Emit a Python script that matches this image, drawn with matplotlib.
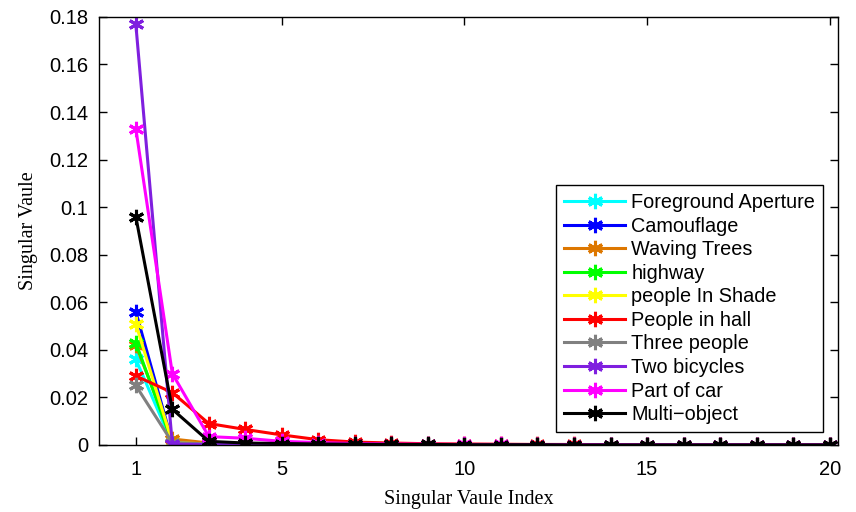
import matplotlib.pyplot as plt

idx = list(range(1, 21))

fg_aperture = [0.036, 0.0006, 0.0003, 0.0002, 0.0001, 0.0001] + [0.0] * 14
camouflage = [0.056, 0.0010, 0.0004, 0.0002, 0.0001, 0.0001] + [0.0] * 14
waving_trees = [0.042, 0.0025, 0.0008, 0.0003, 0.0002, 0.0001] + [0.0] * 14
highway = [0.043, 0.0008, 0.0003, 0.0002, 0.0001, 0.0001] + [0.0] * 14
people_shade = [0.051, 0.0010, 0.0004, 0.0002, 0.0001, 0.0001] + [0.0] * 14
people_hall = [0.029, 0.022, 0.009, 0.0065, 0.0042, 0.0022, 0.0012, 0.0008,
               0.0005, 0.0004, 0.0003, 0.0002, 0.0002, 0.0001, 0.0001, 0.0001,
               0.0001, 0.0001, 0.0, 0.0]
three_people = [0.025, 0.0010, 0.0004, 0.0002, 0.0001, 0.0001] + [0.0] * 14
two_bicycles = [0.177, 0.0003, 0.0002, 0.0001, 0.0001, 0.0001] + [0.0] * 14
part_of_car = [0.133, 0.030, 0.0035, 0.0028, 0.0015, 0.0010, 0.0006, 0.0004,
               0.0003, 0.0002, 0.0002, 0.0001, 0.0001, 0.0001] + [0.0] * 6
multi_object = [0.096, 0.015, 0.0015, 0.0008, 0.0006, 0.0004, 0.0003, 0.0002,
                0.0002, 0.0001, 0.0001, 0.0001] + [0.0] * 8

series = [
    ("Foreground Aperture", fg_aperture, "#00ffff"),
    ("Camouflage", camouflage, "#0000ff"),
    ("Waving Trees", waving_trees, "#dd7700"),
    ("highway", highway, "#00ff00"),
    ("people In Shade", people_shade, "#ffff00"),
    ("People in hall", people_hall, "#ff0000"),
    ("Three people", three_people, "#808080"),
    ("Two bicycles", two_bicycles, "#7f1fdf"),
    ("Part of car", part_of_car, "#ff00ff"),
    ("Multi\u2212object", multi_object, "#000000"),
]

plt.rcParams['font.family'] = ['Liberation Sans', 'DejaVu Sans']

fig = plt.figure(figsize=(8.56, 5.12), dpi=100)
ax = fig.add_axes([0.116, 0.131, 0.863, 0.836])

for name, vals, col in series:
    ax.plot(idx, vals, color=col, linewidth=2.2, marker=(6, 2, 0),
            markersize=11, markeredgewidth=2.2, label=name)

ax.set_xlim(0, 20.23)
ax.set_ylim(0, 0.18)
ax.set_xticks([1, 5, 10, 15, 20])
ax.set_yticks([0, 0.02, 0.04, 0.06, 0.08, 0.1, 0.12, 0.14, 0.16, 0.18])
ax.set_yticklabels(["0", "0.02", "0.04", "0.06", "0.08", "0.1", "0.12",
                    "0.14", "0.16", "0.18"])
ax.tick_params(direction='in', top=True, right=True, labelsize=14.5,
               length=6, width=1, pad=8)
ax.tick_params(axis='x', pad=11)
for s in ax.spines.values():
    s.set_linewidth(1)

ax.set_xlabel("Singular Vaule Index", family='Liberation Serif', fontsize=14.5,
              labelpad=8)
ax.set_ylabel("Singular Vaule", family='Liberation Serif', fontsize=14.5,
              labelpad=8)

leg = ax.legend(loc='lower right', bbox_to_anchor=(0.98, 0.03), fontsize=14.3,
                fancybox=False, framealpha=1, edgecolor='black',
                handlelength=3.1, borderpad=0.4, labelspacing=0.23,
                handletextpad=0.3, borderaxespad=0)
leg.get_frame().set_linewidth(1)

plt.savefig("out.png", dpi=100)
